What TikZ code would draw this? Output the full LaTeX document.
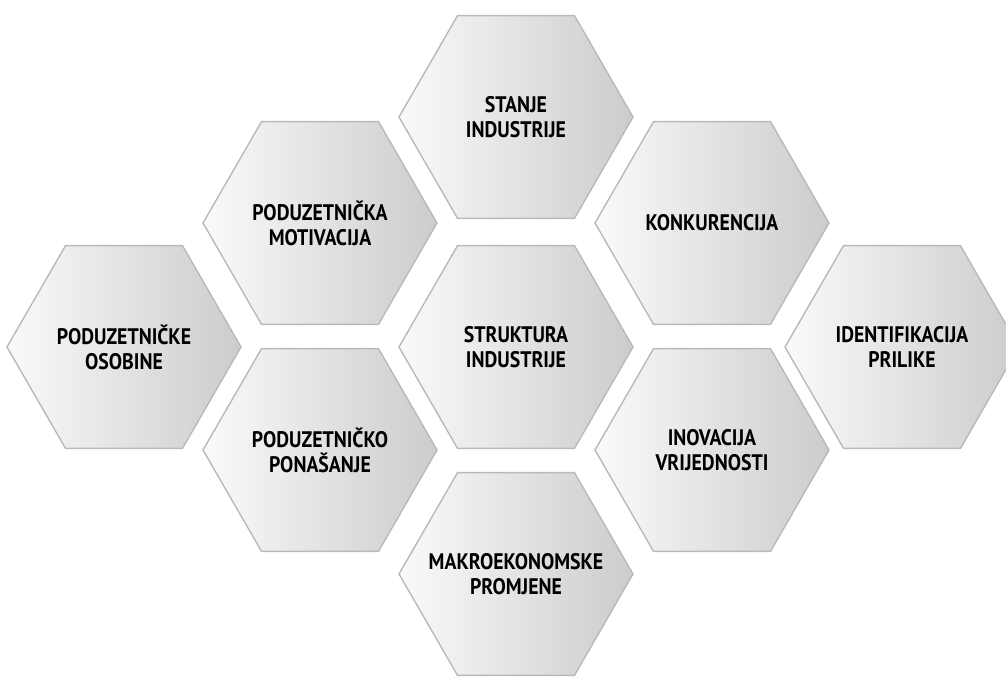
\documentclass[tikz,border=0pt]{standalone}
\usepackage{fontspec}
\setmainfont{PT Sans}
\newfontfamily\hexfont[FakeStretch=0.88]{PT Sans}
\usetikzlibrary{shapes.geometric}

\begin{document}
\begin{tikzpicture}[
x=1pt,
y=-1pt,
hexa/.style={
  regular polygon,
  regular polygon sides=6,
  minimum size=234pt,
  inner sep=0pt,
  draw=gray!55,
  line width=1.4pt,
  left color=gray!4,
  right color=gray!40,
  shading angle=90
  },
lbl/.style={
  align=center,
  inner sep=0pt,
  font=\hexfont\fontsize{22.5}{25}\selectfont\bfseries
  }
]
\useasboundingbox (0,0) rectangle (1006,680);
\foreach \nm/\px/\py/\txt in {
  stanje/516/117/{STANJE\\INDUSTRIJE},
  motivacija/320/223/{PODUZETNIČKA\\MOTIVACIJA},
  konkurencija/712/223/{KONKURENCIJA},
  osobine/124/347/{PODUZETNIČKE\\OSOBINE},
  struktura/516/347/{STRUKTURA\\INDUSTRIJE},
  prilike/902/347/{IDENTIFIKACIJA\\PRILIKE},
  ponasanje/320/450/{PODUZETNIČKO\\PONAŠANJE},
  inovacija/712/450/{INOVACIJA\\VRIJEDNOSTI},
  makro/516/574/{MAKROEKONOMSKE\\PROMJENE}}
{
  \node[hexa] (\nm) at (\px,\py) {};
  \node[lbl] (\nm-t) at (\nm) {\txt};
}
\end{tikzpicture}
\end{document}
